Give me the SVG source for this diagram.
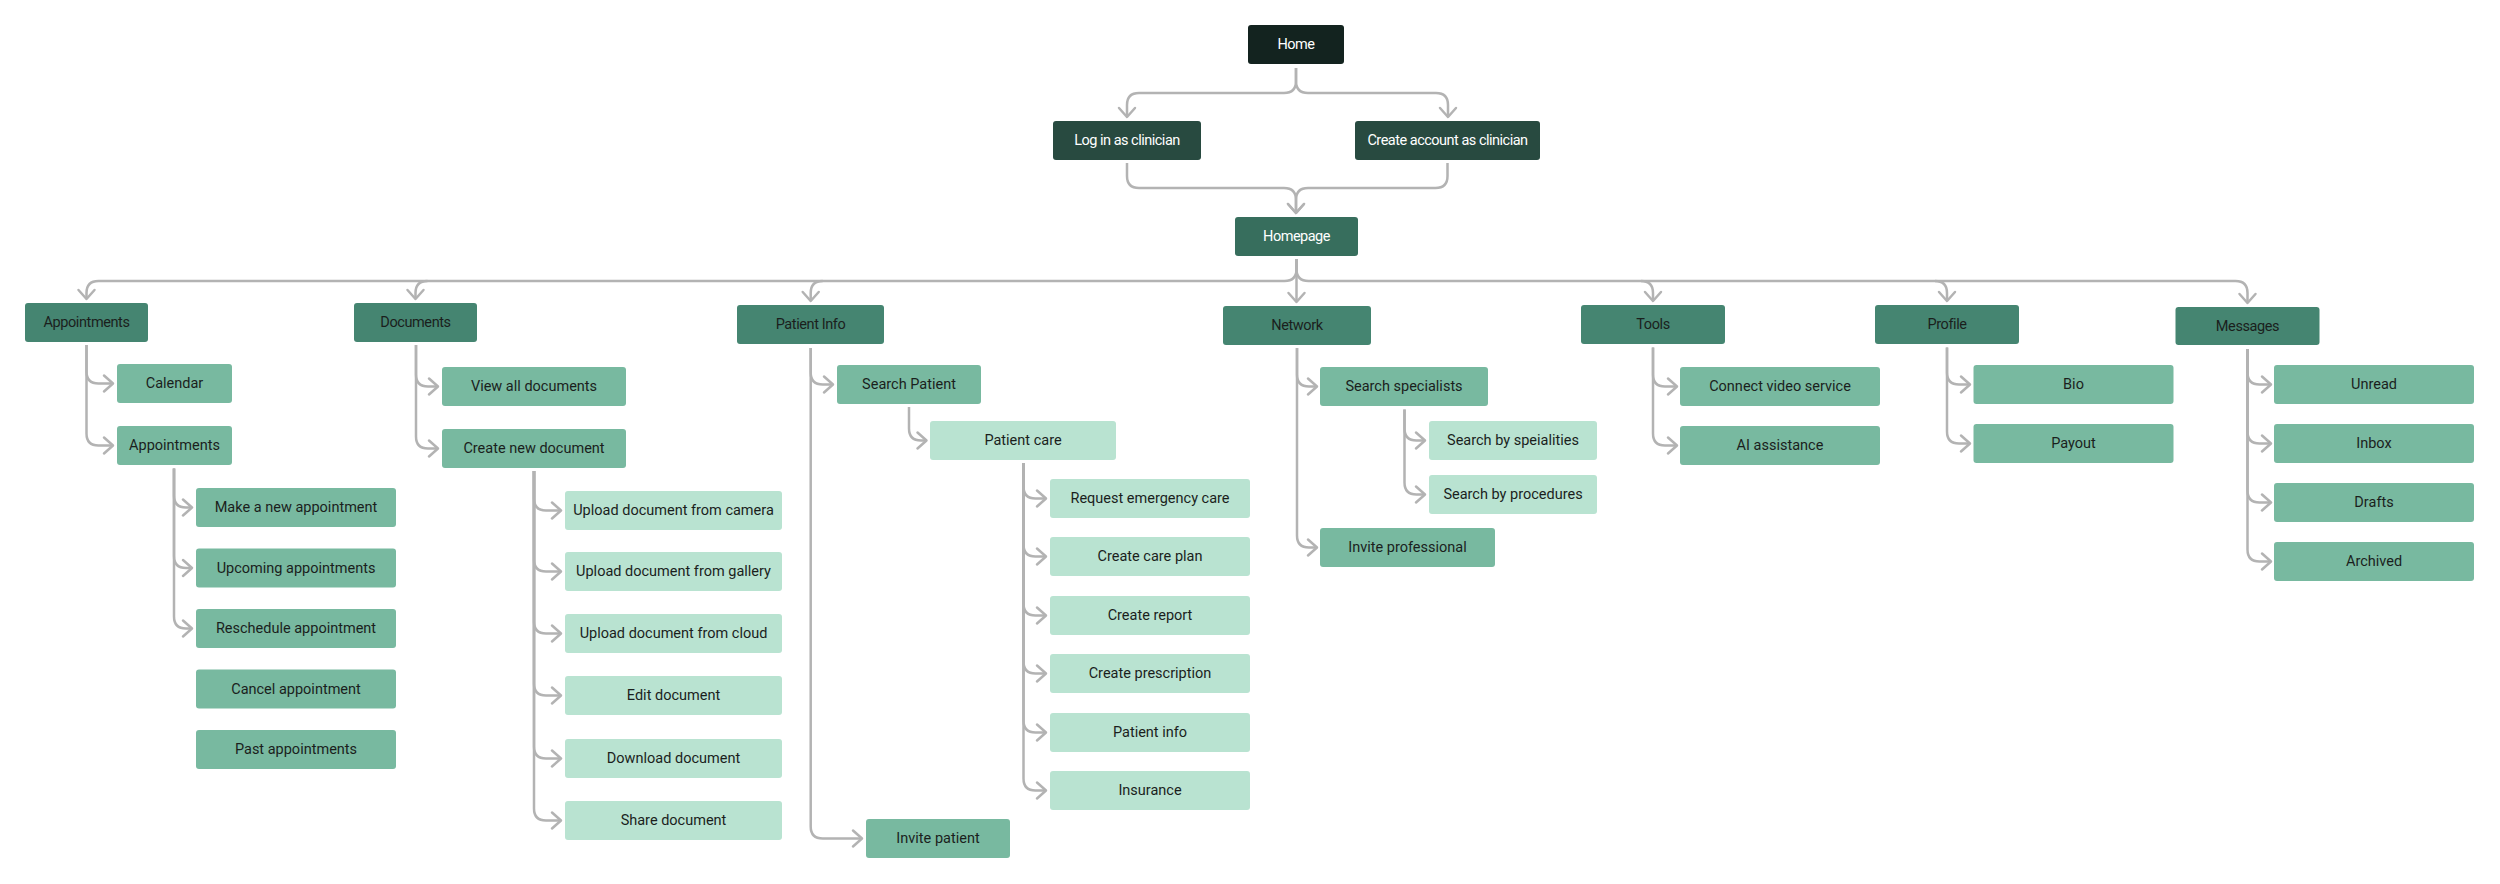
<svg xmlns="http://www.w3.org/2000/svg" width="2500" height="884" viewBox="0 0 2500 884">
<defs>
<style>
.n rect{rx:3;ry:3}
.d0 rect{fill:#13231f}
.d1 rect{fill:#284a40}
.d2 rect{fill:#376e5d}
.l1 rect{fill:#458571}
.l2 rect{fill:#78b9a0}
.l3 rect{fill:#b9e3d1}
text{font-family:Roboto,"Noto Sans",sans-serif;font-size:14.5px;text-anchor:middle;dominant-baseline:central;fill:#1b1f1d}
.d0 text,.d1 text,.d2 text{fill:#ffffff;letter-spacing:-0.5px}
.l1 text{letter-spacing:-0.4px}
.c path{fill:none;stroke:#b3b3b3;stroke-width:2.5;marker-end:url(#ah)}
</style>
<marker id="ah" markerUnits="userSpaceOnUse" markerWidth="24" markerHeight="24" viewBox="-12 -12 24 24" refX="0" refY="0" orient="auto">
<path d="M-9,-8 L0,0 L-9,8" fill="none" stroke="#b3b3b3" stroke-width="2.5" stroke-linecap="round" stroke-linejoin="round"/>
</marker>
</defs>
<rect width="2500" height="884" fill="#ffffff"/>
<g id="connectors" class="c">
<path d="M1296,68 V81 Q1296,93 1284,93 H1139 Q1127,93 1127,105 V117"/>
<path d="M1296,68 V81 Q1296,93 1308,93 H1436 Q1448,93 1448,105 V117"/>
<path d="M1127,163 V176 Q1127,188 1139,188 H1284 Q1296,188 1296,200 V213"/>
<path d="M1447.5,163 V176 Q1447.5,188 1435.5,188 H1308 Q1296,188 1296,200 V213"/>
<path d="M1296.5,259 V302"/>
<path d="M1296.5,259 V269 Q1296.5,281 1284.5,281 H98.5 Q86.5,281 86.5,293 V299"/>
<path d="M427.5,281 Q415.5,281 415.5,293 V299"/>
<path d="M822.7,281 Q810.7,281 810.7,293 V301"/>
<path d="M1296.5,259 V269 Q1296.5,281 1308.5,281 H2235.5 Q2247.5,281 2247.5,293 V303"/>
<path d="M1641,281 Q1653,281 1653,293 V301"/>
<path d="M1935,281 Q1947,281 1947,293 V301"/>
<path d="M86.5,345 V371.5 Q86.5,383.5 98.5,383.5 H113"/>
<path d="M86.5,345 V433.5 Q86.5,445.5 98.5,445.5 H113"/>
<path d="M174,468.5 V495.5 Q174,507.5 186,507.5 H192"/>
<path d="M174,468.5 V556 Q174,568 186,568 H192"/>
<path d="M174,468.5 V616.5 Q174,628.5 186,628.5 H192"/>
<path d="M416,345 V374.5 Q416,386.5 428,386.5 H438"/>
<path d="M416,345 V436.5 Q416,448.5 428,448.5 H438"/>
<path d="M534,471 V498.5 Q534,510.5 546,510.5 H561"/>
<path d="M534,471 V559.5 Q534,571.5 546,571.5 H561"/>
<path d="M534,471 V621.5 Q534,633.5 546,633.5 H561"/>
<path d="M534,471 V683.5 Q534,695.5 546,695.5 H561"/>
<path d="M534,471 V746.5 Q534,758.5 546,758.5 H561"/>
<path d="M534,471 V808.5 Q534,820.5 546,820.5 H561"/>
<path d="M810.7,348 V372.5 Q810.7,384.5 822.7,384.5 H833"/>
<path d="M810.7,348 V826.5 Q810.7,838.5 822.7,838.5 H862"/>
<path d="M909,407 V428.5 Q909,440.5 921,440.5 H926.5"/>
<path d="M1023.5,463 V486.5 Q1023.5,498.5 1035.5,498.5 H1046"/>
<path d="M1023.5,463 V544.5 Q1023.5,556.5 1035.5,556.5 H1046"/>
<path d="M1023.5,463 V603.5 Q1023.5,615.5 1035.5,615.5 H1046"/>
<path d="M1023.5,463 V661.5 Q1023.5,673.5 1035.5,673.5 H1046"/>
<path d="M1023.5,463 V720.5 Q1023.5,732.5 1035.5,732.5 H1046"/>
<path d="M1023.5,463 V778.5 Q1023.5,790.5 1035.5,790.5 H1046"/>
<path d="M1297,348 V374.5 Q1297,386.5 1309,386.5 H1317"/>
<path d="M1297,348 V535.5 Q1297,547.5 1309,547.5 H1317"/>
<path d="M1404.5,409.5 V428.5 Q1404.5,440.5 1416.5,440.5 H1425"/>
<path d="M1404.5,409.5 V482.5 Q1404.5,494.5 1416.5,494.5 H1425"/>
<path d="M1653,347.5 V374.5 Q1653,386.5 1665,386.5 H1677"/>
<path d="M1653,347.5 V433.5 Q1653,445.5 1665,445.5 H1677"/>
<path d="M1947,347.5 V372.5 Q1947,384.5 1959,384.5 H1970"/>
<path d="M1947,347.5 V431.5 Q1947,443.5 1959,443.5 H1970"/>
<path d="M2247.5,349 V372.5 Q2247.5,384.5 2259.5,384.5 H2271"/>
<path d="M2247.5,349 V431.5 Q2247.5,443.5 2259.5,443.5 H2271"/>
<path d="M2247.5,349 V490.5 Q2247.5,502.5 2259.5,502.5 H2271"/>
<path d="M2247.5,349 V549.5 Q2247.5,561.5 2259.5,561.5 H2271"/>
</g>
<g id="home" class="n d0"><rect x="1248" y="25" width="96" height="39"/><text x="1296" y="44.5">Home</text></g>
<g id="login" class="n d1"><rect x="1053" y="121" width="148" height="39"/><text x="1127" y="140.5">Log in as clinician</text></g>
<g id="create-account" class="n d1"><rect x="1355" y="121" width="185" height="39"/><text x="1447.5" y="140.5">Create account as clinician</text></g>
<g id="homepage" class="n d2"><rect x="1235" y="217" width="123" height="39"/><text x="1296.5" y="236.5">Homepage</text></g>

<g id="appointments" class="n l1"><rect x="25" y="303" width="123" height="39"/><text x="86.5" y="322.5">Appointments</text></g>
<g id="documents" class="n l1"><rect x="354" y="303" width="123" height="39"/><text x="415.5" y="322.5">Documents</text></g>
<g id="patient-info" class="n l1"><rect x="737" y="305" width="147" height="39"/><text x="810.5" y="324.5">Patient Info</text></g>
<g id="network" class="n l1"><rect x="1223" y="306" width="148" height="39"/><text x="1297" y="325.5">Network</text></g>
<g id="tools" class="n l1"><rect x="1581" y="305" width="144" height="39"/><text x="1653" y="324.5">Tools</text></g>
<g id="profile" class="n l1"><rect x="1875" y="305" width="144" height="39"/><text x="1947" y="324.5">Profile</text></g>
<g id="messages" class="n l1"><rect x="2175.5" y="307" width="144" height="38"/><text x="2247.5" y="326">Messages</text></g>

<g id="calendar" class="n l2"><rect x="117" y="364" width="115" height="39"/><text x="174.5" y="383.5">Calendar</text></g>
<g id="appointments-2" class="n l2"><rect x="117" y="426" width="115" height="39"/><text x="174.5" y="445.5">Appointments</text></g>
<g id="make-appointment" class="n l2"><rect x="196" y="488" width="200" height="39"/><text x="296" y="507.5">Make a new appointment</text></g>
<g id="upcoming" class="n l2"><rect x="196" y="548.5" width="200" height="39"/><text x="296" y="568">Upcoming appointments</text></g>
<g id="reschedule" class="n l2"><rect x="196" y="609" width="200" height="39"/><text x="296" y="628.5">Reschedule appointment</text></g>
<g id="cancel" class="n l2"><rect x="196" y="669.5" width="200" height="39"/><text x="296" y="689">Cancel appointment</text></g>
<g id="past" class="n l2"><rect x="196" y="730" width="200" height="39"/><text x="296" y="749.5">Past appointments</text></g>

<g id="view-all-docs" class="n l2"><rect x="442" y="367" width="184" height="39"/><text x="534" y="386.5">View all documents</text></g>
<g id="create-doc" class="n l2"><rect x="442" y="429" width="184" height="39"/><text x="534" y="448.5">Create new document</text></g>
<g id="upload-camera" class="n l3"><rect x="565" y="491" width="217" height="39"/><text x="673.5" y="510.5">Upload document from camera</text></g>
<g id="upload-gallery" class="n l3"><rect x="565" y="552" width="217" height="39"/><text x="673.5" y="571.5">Upload document from gallery</text></g>
<g id="upload-cloud" class="n l3"><rect x="565" y="614" width="217" height="39"/><text x="673.5" y="633.5">Upload document from cloud</text></g>
<g id="edit-doc" class="n l3"><rect x="565" y="676" width="217" height="39"/><text x="673.5" y="695.5">Edit document</text></g>
<g id="download-doc" class="n l3"><rect x="565" y="739" width="217" height="39"/><text x="673.5" y="758.5">Download document</text></g>
<g id="share-doc" class="n l3"><rect x="565" y="801" width="217" height="39"/><text x="673.5" y="820.5">Share document</text></g>

<g id="search-patient" class="n l2"><rect x="837" y="365" width="144" height="39"/><text x="909" y="384.5">Search Patient</text></g>
<g id="patient-care" class="n l3"><rect x="930" y="421" width="186" height="39"/><text x="1023" y="440.5">Patient care</text></g>
<g id="request-emergency" class="n l3"><rect x="1050" y="479" width="200" height="39"/><text x="1150" y="498.5">Request emergency care</text></g>
<g id="care-plan" class="n l3"><rect x="1050" y="537" width="200" height="39"/><text x="1150" y="556.5">Create care plan</text></g>
<g id="report" class="n l3"><rect x="1050" y="596" width="200" height="39"/><text x="1150" y="615.5">Create report</text></g>
<g id="prescription" class="n l3"><rect x="1050" y="654" width="200" height="39"/><text x="1150" y="673.5">Create prescription</text></g>
<g id="patient-info-2" class="n l3"><rect x="1050" y="713" width="200" height="39"/><text x="1150" y="732.5">Patient info</text></g>
<g id="insurance" class="n l3"><rect x="1050" y="771" width="200" height="39"/><text x="1150" y="790.5">Insurance</text></g>
<g id="invite-patient" class="n l2"><rect x="866" y="819" width="144" height="39"/><text x="938" y="838.5">Invite patient</text></g>

<g id="search-specialists" class="n l2"><rect x="1320" y="367" width="168" height="39"/><text x="1404" y="386.5">Search specialists</text></g>
<g id="search-specialities" class="n l3"><rect x="1429" y="421" width="168" height="39"/><text x="1513" y="440.5">Search by speialities</text></g>
<g id="search-procedures" class="n l3"><rect x="1429" y="475" width="168" height="39"/><text x="1513" y="494.5">Search by procedures</text></g>
<g id="invite-professional" class="n l2"><rect x="1320" y="528" width="175" height="39"/><text x="1407.5" y="547.5">Invite professional</text></g>

<g id="video-service" class="n l2"><rect x="1680" y="367" width="200" height="39"/><text x="1780" y="386.5">Connect video service</text></g>
<g id="ai-assistance" class="n l2"><rect x="1680" y="426" width="200" height="39"/><text x="1780" y="445.5">AI assistance</text></g>

<g id="bio" class="n l2"><rect x="1973.5" y="365" width="200" height="39"/><text x="2073.5" y="384.5">Bio</text></g>
<g id="payout" class="n l2"><rect x="1973.5" y="424" width="200" height="39"/><text x="2073.5" y="443.5">Payout</text></g>

<g id="unread" class="n l2"><rect x="2274" y="365" width="200" height="39"/><text x="2374" y="384.5">Unread</text></g>
<g id="inbox" class="n l2"><rect x="2274" y="424" width="200" height="39"/><text x="2374" y="443.5">Inbox</text></g>
<g id="drafts" class="n l2"><rect x="2274" y="483" width="200" height="39"/><text x="2374" y="502.5">Drafts</text></g>
<g id="archived" class="n l2"><rect x="2274" y="542" width="200" height="39"/><text x="2374" y="561.5">Archived</text></g>
</svg>
